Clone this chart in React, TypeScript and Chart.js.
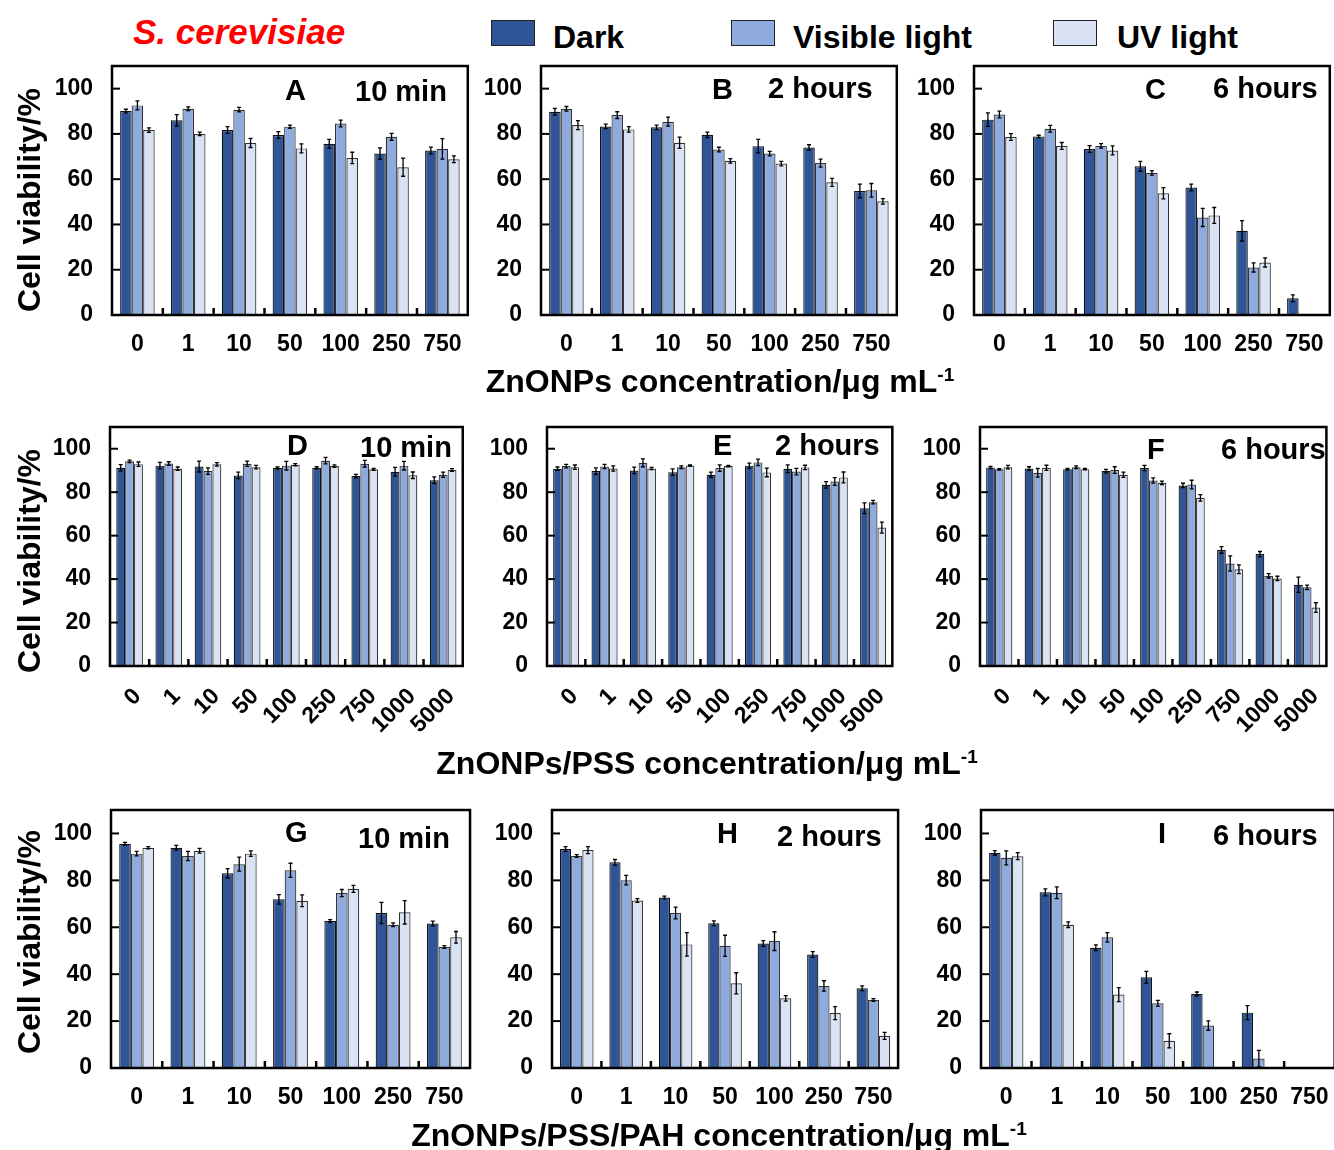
import React, { useEffect, useRef } from "react";
import { Chart, registerables } from "chart.js";

Chart.register(...registerables);

const FONT = "'Liberation Sans', Arial, Helvetica, sans-serif";
Chart.defaults.font.family = FONT;
Chart.defaults.color = "#000";

// Concentration categories (µg/mL)
const concShort = ["0", "1", "10", "50", "100", "250", "750"];
const concLong = ["0", "1", "10", "50", "100", "250", "750", "1000", "5000"];

// Viability axis ticks (%)
const yTickValues = [0, 20, 40, 60, 80, 100];

const seriesNames = ["Dark", "Visible light", "UV light"];
const seriesColors = ["#2F5597", "#8FAADC", "#DAE3F3"];

// ZnONPs — 10 min
const aDark = [90.1, 86.0, 81.7, 79.5, 75.6, 71.3, 72.7];
const aDarkErr = [0.8, 2.5, 1.5, 1.5, 2.0, 2.5, 1.5];
const aVis = [92.6, 91.1, 90.7, 83.2, 84.6, 78.7, 73.4];
const aVisErr = [2.0, 0.8, 1.0, 0.7, 1.5, 1.5, 4.5];
const aUV = [81.7, 80.0, 76.0, 73.6, 69.4, 65.3, 68.8];
const aUVErr = [1.0, 0.8, 2.0, 2.0, 2.5, 4.0, 1.5];

// ZnONPs — 2 hours
const bDark = [89.8, 83.3, 82.9, 79.6, 74.6, 74.0, 54.8];
const bDarkErr = [1.5, 1.0, 1.0, 1.2, 3.0, 1.2, 3.0];
const bVis = [91.1, 88.3, 85.4, 73.1, 71.3, 67.1, 55.1];
const bVisErr = [1.0, 1.5, 2.0, 1.0, 1.0, 1.8, 3.0];
const bUV = [83.9, 82.0, 76.1, 68.1, 66.9, 58.6, 50.2];
const bUVErr = [2.0, 1.2, 2.5, 1.0, 1.0, 1.8, 1.2];

// ZnONPs — 6 hours
const cDark = [86.3, 78.9, 73.3, 65.7, 56.3, 37.2, 7.4];
const cDarkErr = [3.0, 0.5, 1.5, 2.2, 1.5, 4.5, 1.5];
const cVis = [88.6, 82.3, 74.7, 62.8, 43.1, 21.0, null];
const cVisErr = [1.5, 1.5, 1.0, 1.0, 4.0, 2.0, 0];
const cUV = [78.6, 74.7, 72.7, 53.8, 44.0, 23.2, null];
const cUVErr = [1.5, 1.5, 2.0, 2.5, 3.5, 2.0, 0];

// ZnONPs/PSS — 10 min
const dDark = [91.2, 92.2, 91.8, 87.7, 91.1, 91.2, 87.4, 89.4, 85.5];
const dDarkErr = [1.5, 1.5, 2.5, 1.5, 0.5, 0.5, 0.8, 2.0, 1.5];
const dVis = [94.2, 93.2, 89.7, 93.1, 92.2, 94.5, 93.1, 92.2, 88.0];
const dVisErr = [0.6, 0.8, 1.5, 1.2, 2.0, 1.5, 1.5, 2.0, 1.2];
const dUV = [92.9, 90.8, 92.8, 91.5, 92.6, 92.0, 90.5, 87.8, 90.2];
const dUVErr = [1.0, 0.8, 0.8, 0.8, 0.5, 0.6, 0.5, 1.5, 0.6];

// ZnONPs/PSS — 2 hours
const eDark = [90.8, 89.7, 90.0, 89.2, 88.0, 92.2, 90.8, 83.4, 72.6];
const eDarkErr = [0.8, 1.5, 1.5, 1.5, 1.2, 1.2, 1.8, 1.5, 2.5];
const eVis = [92.0, 91.8, 93.5, 91.5, 91.1, 93.7, 89.5, 84.9, 75.4];
const eVisErr = [0.8, 1.0, 1.8, 0.6, 1.5, 1.5, 1.5, 1.8, 0.8];
const eUV = [91.5, 90.9, 90.9, 92.3, 92.0, 89.1, 91.4, 86.8, 63.7];
const eUVErr = [1.0, 1.2, 0.5, 0.3, 0.3, 2.0, 1.0, 2.5, 2.5];

// ZnONPs/PSS — 6 hours
const fDark = [91.4, 90.9, 90.6, 89.7, 91.1, 83.1, 53.4, 51.5, 37.4];
const fDarkErr = [0.5, 0.8, 0.4, 0.8, 1.2, 1.0, 1.5, 1.2, 3.5];
const fVis = [90.5, 88.9, 91.5, 90.2, 85.4, 83.5, 47.2, 41.5, 36.2];
const fVisErr = [0.3, 2.0, 0.6, 1.5, 1.2, 2.0, 3.5, 1.0, 1.0];
const fUV = [91.5, 91.2, 90.6, 88.0, 84.3, 77.4, 44.5, 40.3, 26.9];
const fUVErr = [0.8, 1.2, 0.3, 1.2, 0.8, 1.5, 2.0, 1.0, 2.2];

// ZnONPs/PSS/PAH — 10 min
const gDark = [95.6, 93.9, 83.0, 71.9, 62.7, 66.1, 61.6];
const gDarkErr = [0.6, 1.0, 2.0, 2.0, 0.6, 4.5, 1.0];
const gVis = [91.4, 90.4, 86.9, 84.3, 74.6, 61.1, 51.6];
const gVisErr = [1.0, 2.0, 3.0, 3.0, 1.5, 0.8, 0.6];
const gUV = [93.9, 92.6, 91.4, 71.3, 76.4, 66.4, 55.7];
const gUVErr = [0.5, 1.0, 1.2, 2.5, 1.5, 5.0, 2.5];

// ZnONPs/PSS/PAH — 2 hours
const hDark = [93.4, 87.7, 72.7, 61.7, 53.1, 48.4, 34.0];
const hDarkErr = [1.0, 1.2, 0.6, 1.0, 1.2, 1.2, 1.0];
const hVis = [90.4, 80.1, 66.1, 52.1, 54.1, 35.0, 29.0];
const hVisErr = [0.6, 2.0, 2.5, 4.5, 4.0, 2.2, 0.6];
const hUV = [92.9, 71.4, 52.7, 36.1, 29.7, 23.4, 13.7];
const hUVErr = [1.5, 0.8, 5.0, 4.5, 1.2, 2.8, 1.5];

// ZnONPs/PSS/PAH — 6 hours
const iDark = [91.7, 74.9, 51.3, 38.7, 31.6, 23.6, null];
const iDarkErr = [1.0, 1.5, 1.2, 2.5, 0.8, 3.0, 0];
const iVis = [89.6, 74.7, 55.7, 27.6, 18.1, 4.0, null];
const iVisErr = [3.0, 2.5, 2.0, 1.2, 2.0, 3.5, 0];
const iUV = [90.3, 61.1, 31.3, 11.6, null, null, null];
const iUVErr = [1.5, 1.2, 3.0, 3.0, 0, 0, 0];

const Y_W = 70; // width reserved for the y scale
const PAD_T = 6;
const PAD_R = 6;

type Val = number | null;
type PanelSpec = {
  letter: string;
  time: string;
  labels: string[];
  series: [Val[], number[]][];
  box: [number, number, number, number];
  xh: number;
  rotate: boolean;
  letterPos: [number, number];
  timePos: [number, number];
};

const panels: PanelSpec[] = [
  { letter: "A", time: "10 min", labels: concShort, series: [[aDark, aDarkErr], [aVis, aVisErr], [aUV, aUVErr]], box: [112, 66, 472, 315], xh: 50, rotate: false, letterPos: [285, 90], timePos: [355, 91] },
  { letter: "B", time: "2 hours", labels: concShort, series: [[bDark, bDarkErr], [bVis, bVisErr], [bUV, bUVErr]], box: [541, 66, 901, 315], xh: 50, rotate: false, letterPos: [712, 89], timePos: [768, 88] },
  { letter: "C", time: "6 hours", labels: concShort, series: [[cDark, cDarkErr], [cVis, cVisErr], [cUV, cUVErr]], box: [974, 66, 1334, 315], xh: 50, rotate: false, letterPos: [1145, 89], timePos: [1213, 88] },
  { letter: "D", time: "10 min", labels: concLong, series: [[dDark, dDarkErr], [dVis, dVisErr], [dUV, dUVErr]], box: [110, 427, 474, 666], xh: 80, rotate: true, letterPos: [287, 445], timePos: [360, 447] },
  { letter: "E", time: "2 hours", labels: concLong, series: [[eDark, eDarkErr], [eVis, eVisErr], [eUV, eUVErr]], box: [547, 427, 904, 666], xh: 80, rotate: true, letterPos: [713, 445], timePos: [775, 445] },
  { letter: "F", time: "6 hours", labels: concLong, series: [[fDark, fDarkErr], [fVis, fVisErr], [fUV, fUVErr]], box: [980, 427, 1338, 666], xh: 80, rotate: true, letterPos: [1147, 449], timePos: [1221, 449] },
  { letter: "G", time: "10 min", labels: concShort, series: [[gDark, gDarkErr], [gVis, gVisErr], [gUV, gUVErr]], box: [111, 810, 474, 1068], xh: 50, rotate: false, letterPos: [285, 832], timePos: [358, 838] },
  { letter: "H", time: "2 hours", labels: concShort, series: [[hDark, hDarkErr], [hVis, hVisErr], [hUV, hUVErr]], box: [552, 810, 903, 1068], xh: 50, rotate: false, letterPos: [717, 833], timePos: [777, 836] },
  { letter: "I", time: "6 hours", labels: concShort, series: [[iDark, iDarkErr], [iVis, iVisErr], [iUV, iUVErr]], box: [981, 810, 1339, 1068], xh: 50, rotate: false, letterPos: [1158, 833], timePos: [1213, 835] },
];

// Error bars, the closed frame, inward y ticks and between-group x ticks
const framePlugin = {
  id: "panelFrame",
  afterDatasetsDraw(chart: any) {
    const { ctx, chartArea: a, scales } = chart;
    const ys = scales.y;
    const xs = scales.x;
    ctx.save();
    ctx.strokeStyle = "#000";
    ctx.lineWidth = 1.3;
    chart.data.datasets.forEach((ds: any, i: number) => {
      const meta = chart.getDatasetMeta(i);
      meta.data.forEach((bar: any, j: number) => {
        const v = ds.data[j];
        const e = ds.errors ? ds.errors[j] : 0;
        if (v == null || !e) return;
        const yTop = ys.getPixelForValue(v + e);
        const yBot = ys.getPixelForValue(Math.max(0, v - e));
        ctx.beginPath();
        ctx.moveTo(bar.x, yTop);
        ctx.lineTo(bar.x, yBot);
        ctx.moveTo(bar.x - 2, yTop);
        ctx.lineTo(bar.x + 2, yTop);
        ctx.moveTo(bar.x - 2, yBot);
        ctx.lineTo(bar.x + 2, yBot);
        ctx.stroke();
      });
    });

    ctx.lineWidth = 2.5;
    ctx.strokeRect(a.left, a.top, a.right - a.left, a.bottom - a.top);

    ctx.lineWidth = 2;
    ys.ticks.forEach((t: any) => {
      const y = ys.getPixelForValue(t.value);
      ctx.beginPath();
      ctx.moveTo(a.left, y);
      ctx.lineTo(a.left + 8, y);
      ctx.stroke();
    });

    ctx.lineWidth = 2.5;
    const n = chart.data.labels.length;
    for (let k = 1; k < n; k++) {
      const x = (xs.getPixelForTick(k - 1) + xs.getPixelForTick(k)) / 2;
      ctx.beginPath();
      ctx.moveTo(x, a.bottom);
      ctx.lineTo(x, a.bottom - 7);
      ctx.stroke();
    }
    ctx.restore();
  },
};

function Panel({ spec }: { spec: PanelSpec }) {
  const ref = useRef<HTMLCanvasElement>(null);
  const [l, t, r, b] = spec.box;
  const width = Y_W + (r - l) + PAD_R;
  const height = PAD_T + (b - t) + spec.xh;

  useEffect(() => {
    if (!ref.current) return;
    const chart = new Chart(ref.current, {
      type: "bar",
      data: {
        labels: spec.labels,
        datasets: spec.series.map(([vals, errs], i) => ({
          label: seriesNames[i],
          data: vals,
          errors: errs,
          backgroundColor: seriesColors[i],
          borderColor: i === 0 ? "#111" : "#333",
          borderWidth: 1.2,
          categoryPercentage: 0.68,
          barPercentage: 1,
        })) as any,
      },
      options: {
        responsive: false,
        animation: false,
        devicePixelRatio: 1,
        layout: { padding: { top: PAD_T, right: PAD_R, left: 0, bottom: 0 } },
        plugins: { legend: { display: false }, tooltip: { enabled: false } },
        scales: {
          x: {
            type: "category",
            offset: true,
            grid: { display: false, drawTicks: false },
            border: { display: false },
            ticks: {
              color: "#000",
              font: { size: 23, weight: "bold", family: FONT },
              padding: spec.rotate ? 17 : 16,
              labelOffset: spec.rotate ? 8 : 0,
              autoSkip: false,
              maxRotation: spec.rotate ? 45 : 0,
              minRotation: spec.rotate ? 45 : 0,
            },
            afterFit: (s: any) => {
              s.height = spec.xh;
            },
          },
          y: {
            min: 0,
            max: 110,
            grid: { display: false, drawTicks: false },
            border: { display: false },
            ticks: {
              color: "#000",
              autoSkip: false,
              font: { size: 23, weight: "bold", family: FONT },
              padding: 19,
            },
            afterBuildTicks: (s: any) => {
              s.ticks = yTickValues.map((v) => ({ value: v }));
            },
            afterFit: (s: any) => {
              s.width = Y_W;
              s.paddingTop = 0;
              s.paddingBottom = 0;
            },
          },
        },
      } as any,
      plugins: [framePlugin],
    });
    return () => chart.destroy();
  }, [spec]);

  return (
    <canvas
      ref={ref}
      width={width}
      height={height}
      style={{ position: "absolute", left: l - Y_W, top: t - PAD_T, width, height }}
    />
  );
}

const textBase: React.CSSProperties = {
  position: "absolute",
  fontFamily: FONT,
  fontWeight: "bold",
  color: "#000",
  whiteSpace: "nowrap",
  lineHeight: 1,
};

function Label({ x, y, size, children, center, style }: any) {
  return (
    <div
      style={{
        ...textBase,
        left: x,
        top: y,
        fontSize: size,
        transform: center ? "translate(-50%, -50%)" : "translateY(-50%)",
        ...style,
      }}
    >
      {children}
    </div>
  );
}

function YTitle({ cy }: { cy: number }) {
  return (
    <div
      style={{
        ...textBase,
        left: 29,
        top: cy,
        fontSize: 32,
        transform: "translate(-50%, -50%) rotate(-90deg)",
      }}
    >
      Cell viability/%
    </div>
  );
}

const legendBoxes: [number, number][] = [
  [491, 553],
  [731, 793],
  [1053, 1117],
];

export default function App() {
  useEffect(() => {
    document.body.style.margin = "0";
    document.body.style.overflow = "hidden";
  }, []);

  return (
    <div
      style={{
        position: "absolute",
        left: 0,
        top: 0,
        width: 1334,
        height: 1150,
        overflow: "hidden",
        background: "#fff",
      }}
    >
      {panels.map((p) => (
        <Panel key={p.letter} spec={p} />
      ))}

      {panels.map((p) => (
        <React.Fragment key={"t" + p.letter}>
          <Label x={p.letterPos[0]} y={p.letterPos[1]} size={29}>
            {p.letter}
          </Label>
          <Label x={p.timePos[0]} y={p.timePos[1]} size={29}>
            {p.time}
          </Label>
        </React.Fragment>
      ))}

      <Label x={133} y={31} size={35} style={{ color: "#FF0000", fontStyle: "italic" }}>
        S. cerevisiae
      </Label>

      {legendBoxes.map(([bx, tx], i) => (
        <React.Fragment key={"lg" + i}>
          <div
            style={{
              position: "absolute",
              left: bx,
              top: 20,
              width: 44,
              height: 26,
              boxSizing: "border-box",
              background: seriesColors[i],
              border: "1.5px solid #222",
            }}
          />
          <Label x={tx} y={37} size={32}>
            {seriesNames[i]}
          </Label>
        </React.Fragment>
      ))}

      <YTitle cy={200} />
      <YTitle cy={561} />
      <YTitle cy={942} />

      <Label x={720} y={381} size={32} center>
        ZnONPs concentration/μg mL<sup style={{ fontSize: 19 }}>-1</sup>
      </Label>
      <Label x={707} y={763} size={32} center>
        ZnONPs/PSS concentration/μg mL<sup style={{ fontSize: 19 }}>-1</sup>
      </Label>
      <Label x={719} y={1135} size={32} center>
        ZnONPs/PSS/PAH concentration/μg mL<sup style={{ fontSize: 19 }}>-1</sup>
      </Label>
    </div>
  );
}
